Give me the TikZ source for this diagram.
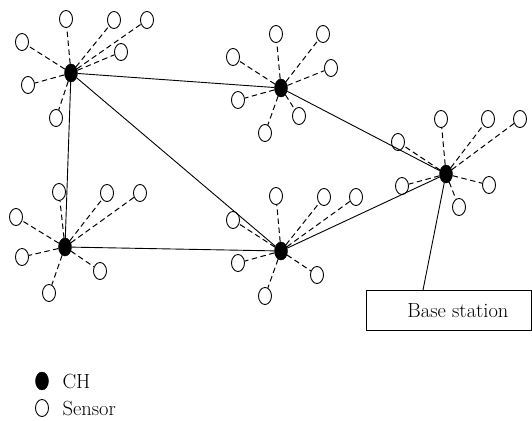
\documentclass[tikz,border=0pt]{standalone}
\usetikzlibrary{shapes.geometric}
\begin{document}
\begin{tikzpicture}[x=1pt,y=-1pt,
	sensor/.style={shape=ellipse,draw=black,line width=0.9pt,minimum width=13pt,minimum height=17pt,inner sep=0pt},
	ch/.style={shape=ellipse,draw=black,fill=black,minimum width=13pt,minimum height=18pt,inner sep=0pt},
	link/.style={line width=0.9pt},
	reach/.style={dash pattern=on 5.5pt off 3.5pt,line width=1pt},
	lbl/.style={font=\fontsize{20.5}{24}\selectfont}]
	\useasboundingbox (0,0) rectangle (532,420);
	
	\node[ch] (H1) at (71,73) {};
	\node[ch] (H2) at (281,88) {};
	\node[ch] (H3) at (446,174) {};
	\node[ch] (H4) at (65,247) {};
	\node[ch] (H5) at (281,251) {};
	
	\node[sensor] (a1) at (66,19) {};
	\node[sensor] (a2) at (114,20) {};
	\node[sensor] (a3) at (147,20) {};
	\node[sensor] (a4) at (22,42) {};
	\node[sensor] (a5) at (121,52) {};
	\node[sensor] (a6) at (28,85) {};
	\node[sensor] (a7) at (56,118) {};
	
	\node[sensor] (b1) at (276,34) {};
	\node[sensor] (b2) at (323,34) {};
	\node[sensor] (b3) at (233,57) {};
	\node[sensor] (b4) at (331,68) {};
	\node[sensor] (b5) at (238,100) {};
	\node[sensor] (b6) at (299,116) {};
	\node[sensor] (b7) at (265,133) {};
	
	\node[sensor] (c1) at (441,119) {};
	\node[sensor] (c2) at (488,119) {};
	\node[sensor] (c3) at (520,119) {};
	\node[sensor] (c4) at (398,142) {};
	\node[sensor] (c5) at (402,186) {};
	\node[sensor] (c6) at (489,185) {};
	\node[sensor] (c7) at (459,207) {};
	
	\node[sensor] (d1) at (59,192) {};
	\node[sensor] (d2) at (107,193) {};
	\node[sensor] (d3) at (140,193) {};
	\node[sensor] (d4) at (16,217) {};
	\node[sensor] (d5) at (22,257) {};
	\node[sensor] (d6) at (100,271) {};
	\node[sensor] (d7) at (49,293) {};
	
	\node[sensor] (e1) at (276,196) {};
	\node[sensor] (e2) at (324,197) {};
	\node[sensor] (e3) at (356,197) {};
	\node[sensor] (e4) at (233,220) {};
	\node[sensor] (e5) at (238,263) {};
	\node[sensor] (e6) at (317,275) {};
	\node[sensor] (e7) at (265,296) {};
	
	\node[draw=black,line width=0.9pt,minimum width=165pt,minimum height=40pt,anchor=north west,lbl] (BS) at (366,290) {\hspace*{18pt}Base station};
	\coordinate (BSin) at ([xshift=57pt]BS.north west);
	
	\path[reach] (H1) edge (a1) edge (a2) edge (a3) edge (a4) edge (a5) edge (a6) edge (a7);
	\path[reach] (H2) edge (b1) edge (b2) edge (b3) edge (b4) edge (b5) edge (b6) edge (b7);
	\path[reach] (H3) edge (c1) edge (c2) edge (c3) edge (c4) edge (c5) edge (c6) edge (c7);
	\path[reach] (H4) edge (d1) edge (d2) edge (d3) edge (d4) edge (d5) edge (d6) edge (d7);
	\path[reach] (H5) edge (e1) edge (e2) edge (e3) edge (e4) edge (e5) edge (e6) edge (e7);
	
	\path[link] (H1) edge (H2);
	\path[link] (H1) edge (H4);
	\path[link] (H1) edge (H5);
	\path[link] (H4) edge (H5);
	\path[link] (H2) edge (H3);
	\path[link] (H5) edge (H3);
	\path[link] (H3) edge (BSin);
	
	\node[ch] (keyCH) at (42,381) {};
	\node[anchor=west,lbl] (txtCH) at (59,381) {CH};
	\node[sensor] (keySensor) at (42,408) {};
	\node[anchor=west,lbl] (txtSensor) at (59,408) {Sensor};
\end{tikzpicture}
\end{document}
